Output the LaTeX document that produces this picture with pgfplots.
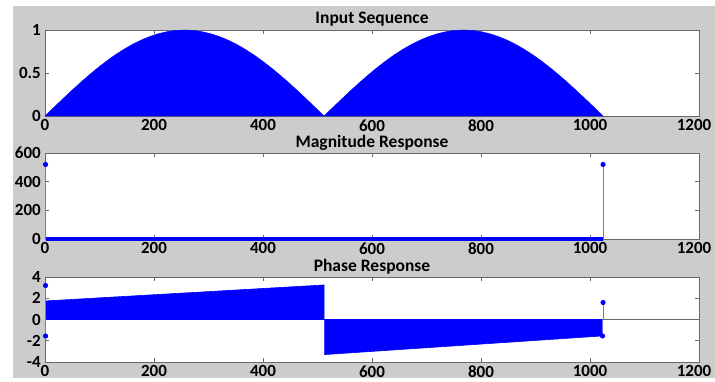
\documentclass[border=0pt]{standalone}
\usepackage{fontspec}
\setmainfont{Carlito}
\usepackage{pgfplots}
\pgfplotsset{compat=1.18}
\definecolor{bgclr}{RGB}{204,204,204}
\definecolor{frameclr}{RGB}{105,105,105}
\definecolor{stemclr}{RGB}{110,110,255}
\pgfplotsset{
  myax/.style={
    scale only axis, width=654pt,
    xmin=0, xmax=1200, xtick={0,200,...,1200},
    xticklabels={0,200,400,600,800,1000,\hspace*{-10pt}1200},
    tick align=inside,
    major tick length=4pt,
    tick style={frameclr, line width=0.6pt},
    axis line style={frameclr, line width=0.8pt},
    axis background/.style={fill=white},
    /pgf/number format/assume math mode=true,
    /pgf/number format/1000 sep={},
    ticklabel style={font=\fontsize{17}{17}\selectfont\bfseries, inner sep=1pt},
    xticklabel style={yshift=-2.5pt},
    yticklabel style={xshift=-3pt},
    title style={font=\fontsize{17.5}{17.5}\selectfont\bfseries, at={(0.5,1)}, anchor=base, yshift=0pt, inner sep=0pt},
  }
}
\begin{document}
\begin{tikzpicture}[x=1pt,y=1pt]
\useasboundingbox (0,0) rectangle (715,381);
\fill[bgclr] (13,3) rectangle (715,375);

% Input sequence
\begin{axis}[myax, at={(45pt,265pt)}, anchor=south west, height=86pt,
  ymin=0, ymax=1, ytick={0,0.5,1}, title={Input Sequence}]
\addplot[fill=blue, draw=blue, line width=0.4pt] coordinates {
(0,0) (16,0.0980) (32,0.1951) (48,0.2903) (64,0.3827) (80,0.4714) (96,0.5556) (112,0.6344)
(128,0.7071) (144,0.7730) (160,0.8315) (176,0.8819) (192,0.9239) (208,0.9569) (224,0.9808) (240,0.9952)
(256,1) (272,0.9952) (288,0.9808) (304,0.9569) (320,0.9239) (336,0.8819) (352,0.8315) (368,0.7730)
(384,0.7071) (400,0.6344) (416,0.5556) (432,0.4714) (448,0.3827) (464,0.2903) (480,0.1951) (496,0.0980)
(512,0) (528,0.0980) (544,0.1951) (560,0.2903) (576,0.3827) (592,0.4714) (608,0.5556) (624,0.6344)
(640,0.7071) (656,0.7730) (672,0.8315) (688,0.8819) (704,0.9239) (720,0.9569) (736,0.9808) (752,0.9952)
(768,1) (784,0.9952) (800,0.9808) (816,0.9569) (832,0.9239) (848,0.8819) (864,0.8315) (880,0.7730)
(896,0.7071) (912,0.6344) (928,0.5556) (944,0.4714) (960,0.3827) (976,0.2903) (992,0.1951) (1008,0.0980)
(1024,0)} \closedcycle;
\end{axis}

% Magnitude response
\begin{axis}[myax, at={(45pt,142pt)}, anchor=south west, height=86pt,
  ymin=0, ymax=600, ytick={0,200,400,600}, title={Magnitude Response}, clip=false]
\addplot[blue, line width=4pt] coordinates {(1,3) (1024,3)};
\addplot[stemclr, line width=1.1pt, ycomb, mark=*, mark size=2pt, mark options={blue, fill=blue, draw=blue}]
  coordinates {(1,520) (1024,520)};
\end{axis}

% Phase response
\begin{axis}[myax, at={(45pt,19pt)}, anchor=south west, height=85pt,
  ymin=-4, ymax=4, ytick={-4,-2,0,2,4}, title={Phase Response}]
\addplot[frameclr, line width=0.6pt] coordinates {(0,0) (1200,0)};
\addplot[fill=blue, draw=blue, line width=0.6pt] coordinates {(2,1.75) (512,3.25)} \closedcycle;
\addplot[fill=blue, draw=blue, line width=0.6pt] coordinates {(513,-3.3) (1022,-1.55)} \closedcycle;
\addplot[stemclr, line width=1.1pt, ycomb, mark=*, mark size=2pt, mark options={blue, fill=blue, draw=blue}]
  coordinates {(1,3.2) (1,-1.55) (1024,1.6) (1023,-1.55)};
\end{axis}
\end{tikzpicture}
\end{document}
